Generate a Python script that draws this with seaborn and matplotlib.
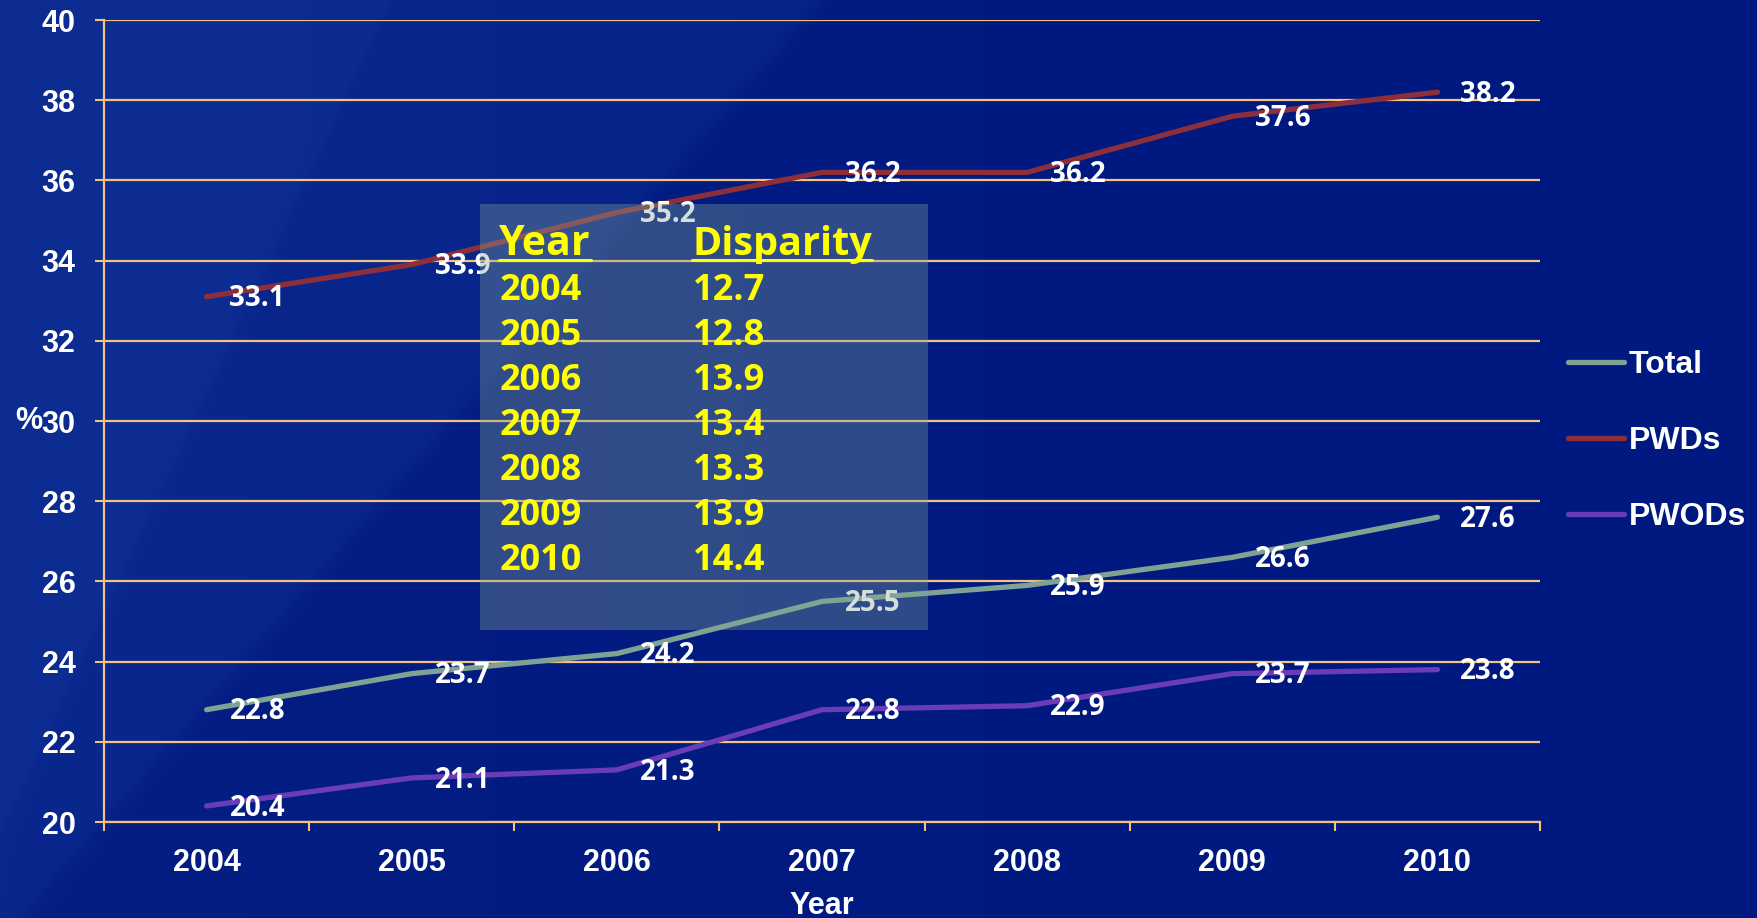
import numpy as np
import pandas as pd
import matplotlib
matplotlib.use("Agg")
import matplotlib.pyplot as plt
import seaborn as sns
from matplotlib.lines import Line2D
from matplotlib.patches import Rectangle

# ---- data -------------------------------------------------------------
years = [2004, 2005, 2006, 2007, 2008, 2009, 2010]
total = [22.8, 23.7, 24.2, 25.5, 25.9, 26.6, 27.6]
pwds = [33.1, 33.9, 35.2, 36.2, 36.2, 37.6, 38.2]
pwods = [20.4, 21.1, 21.3, 22.8, 22.9, 23.7, 23.8]
disparity = [12.7, 12.8, 13.9, 13.4, 13.3, 13.9, 14.4]
series_names = ["Total", "PWDs", "PWODs"]
y_ticks = list(range(20, 41, 2))

# ---- style ------------------------------------------------------------
W, H = 1757, 918
colors = {"Total": "#7ea394", "PWDs": "#8c2f3a", "PWODs": "#6a3cb8"}
grid_c = "#f3c27e"
yellow = "#ffff00"
LABEL_FONT = ["Open Sans", "DejaVu Sans"]

sns.set_theme(style="ticks")
plt.rcParams["font.family"] = ["Liberation Sans", "DejaVu Sans"]

fig = plt.figure(figsize=(W / 100, H / 100), dpi=100)

# ---- navy slide background with soft diagonal sheen ---------------------
bg_ax = fig.add_axes([0, 0, 1, 1], zorder=-10)
yy, xx = np.mgrid[0:H, 0:W].astype(float)


def left_of(x1, y1, x2, y2, soft=3.0):
    d = ((x2 - x1) * (yy - y1) - (y2 - y1) * (xx - x1)) / np.hypot(x2 - x1, y2 - y1)
    return 1.0 / (1.0 + np.exp(-np.clip(d / soft, -50, 50)))


img = np.zeros((H, W, 3))
img[..., 0] = 0
img[..., 1] = 25
img[..., 2] = 128
b1 = left_of(820, 0, 20, 918, soft=4)
b2 = left_of(390, 0, -40, 918, soft=3)
grad = np.clip(1 - xx / (W * 0.7), 0, 1)
img += b1[..., None] * np.array([5, 9, 8])
img += b2[..., None] * np.array([5, 6, 6])
img += grad[..., None] * np.array([4, 5, 4])
bg_ax.imshow(np.clip(img / 255.0, 0, 1), aspect="auto", extent=[0, W, H, 0])
bg_ax.axis("off")

# ---- main chart -------------------------------------------------------
ax = fig.add_axes([104 / W, 1 - 822 / H, 1436 / W, 802 / H])
ax.patch.set_alpha(0)

df = pd.DataFrame({
    "Year": years * 3,
    "Value": total + pwds + pwods,
    "Series": sum([[n] * len(years) for n in series_names], []),
})
sns.lineplot(data=df, x="Year", y="Value", hue="Series", hue_order=series_names,
             palette=colors, linewidth=3.8, solid_capstyle="round",
             legend=False, ax=ax, zorder=3)

ax.set_xlim(2003.5, 2010.5)
ax.set_ylim(20, 40)
ax.set_yticks(y_ticks)
ax.set_yticklabels([str(t) for t in y_ticks], fontweight="bold")
ax.set_xticks(years)
ax.set_xticklabels([str(y) for y in years], fontweight="bold")
ax.set_xticks(np.arange(2003.5, 2011, 1.0), minor=True)

ax.grid(axis="y", color=grid_c, linewidth=1.6)
ax.grid(axis="x", visible=False)
ax.set_axisbelow(True)
for s in ("top", "right"):
    ax.spines[s].set_visible(False)
for s in ("left", "bottom"):
    ax.spines[s].set_color(grid_c)
    ax.spines[s].set_linewidth(1.6)

ax.tick_params(axis="y", which="major", left=True, length=6.5, width=1.5,
               color=grid_c, direction="out", pad=14, labelsize=22,
               labelcolor="white")
ax.tick_params(axis="x", which="major", bottom=True, length=0, pad=19,
               labelsize=22, labelcolor="white")
ax.tick_params(axis="x", which="minor", bottom=True, length=6.5, width=1.5,
               color=grid_c, direction="out")

ax.set_xlabel("Year", fontsize=22, fontweight="bold", color="white", labelpad=9)
ax.set_ylabel("%", rotation=0, fontsize=22, fontweight="bold", color="white",
              ha="right", va="center")
ax.yaxis.set_label_coords((42 - 104) / 1436, 0.5)

# value labels beside each point
for name, vals in zip(series_names, [total, pwds, pwods]):
    for x, v in zip(years, vals):
        ax.annotate(f"{v:.1f}", xy=(x, v), xytext=(16.5, -7),
                    textcoords="offset points", ha="left", va="baseline",
                    fontsize=20, fontweight="bold", color="white",
                    family=LABEL_FONT, zorder=5)

# legend at the right
handles = [Line2D([0], [0], color=colors[n], lw=3.8, solid_capstyle="round")
           for n in series_names]
fig.legend(handles, series_names, loc="center left",
           bbox_to_anchor=(1568 / W, 1 - 441 / H), frameon=False,
           handlelength=1.75, handletextpad=0.15, labelspacing=1.45,
           borderaxespad=0, borderpad=0,
           prop={"weight": "bold", "size": 23}, labelcolor="white")

# ---- disparity table panel ----------------------------------------------
fig.add_artist(Rectangle((480 / W, 1 - 630 / H), 448 / W, 426 / H,
                         transform=fig.transFigure, facecolor="#86a696",
                         edgecolor="none", alpha=0.35, zorder=3))

headers = []
headers.append(fig.text(499 / W, 1 - 255 / H, "Year", fontsize=29.5,
                        fontweight="bold", color=yellow, family=LABEL_FONT,
                        va="baseline", ha="left", zorder=4))
headers.append(fig.text(692 / W, 1 - 255 / H, "Disparity", fontsize=28.5,
                        fontweight="bold", color=yellow, family=LABEL_FONT,
                        va="baseline", ha="left", zorder=4))
for i, (yr, d) in enumerate(zip(years, disparity)):
    yb = 1 - (300 + 45 * i) / H
    fig.text(500 / W, yb, str(yr), fontsize=26, fontweight="bold",
             color=yellow, family=LABEL_FONT, va="baseline", ha="left", zorder=4)
    fig.text(693 / W, yb, f"{d:.1f}", fontsize=26, fontweight="bold",
             color=yellow, family=LABEL_FONT, va="baseline", ha="left", zorder=4)

fig.canvas.draw()
for t in headers:
    bb = t.get_window_extent()
    fig.add_artist(Line2D([bb.x0 / W, bb.x1 / W], [1 - 260 / H] * 2,
                          transform=fig.transFigure, color=yellow, lw=2.2,
                          zorder=4))

fig.savefig("out.png", dpi=100)
